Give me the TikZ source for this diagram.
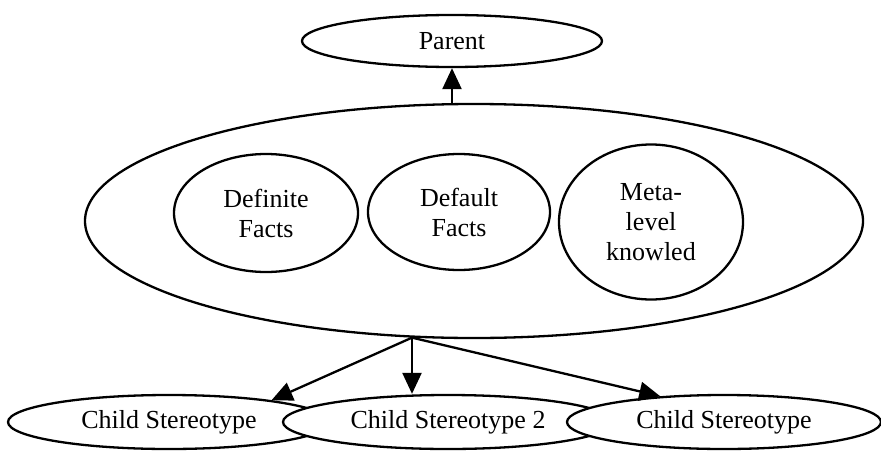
\documentclass[tikz,border=0pt]{standalone}
\usepackage{fontspec}
\setmainfont{Liberation Serif}
\usetikzlibrary{shapes.geometric,arrows.meta}
\begin{document}
\begin{tikzpicture}[x=1pt,y=-1pt,
  oval/.style={ellipse,draw,line width=2.3pt,fill=white,inner sep=0pt,
    align=center,font=\fontsize{26}{30}\selectfont},
  link/.style={line width=2.3pt,-{Triangle[length=21pt,width=19pt]}}]
\useasboundingbox (0,0) rectangle (881,450);
\clip (0,0) rectangle (881,450);
% stereotype hierarchy: parent, the stereotype itself, its children
\node[oval,minimum width=300pt,minimum height=52pt] (parent) at (452,41) {Parent};
\node[oval,minimum width=778pt,minimum height=234pt] (frame) at (474,221) {};
\node[oval,minimum width=184pt,minimum height=118pt] (definite) at (266,213) {Definite\\Facts};
\node[oval,minimum width=182pt,minimum height=116pt] (default) at (459,212) {Default\\Facts};
\node[oval,minimum width=184pt,minimum height=155pt] (meta) at (651,222) {Meta-\\level\\knowled};
\node[oval,minimum width=322pt,minimum height=54pt] (c1) at (169,422) {Child Stereotype};
\node[oval,minimum width=330pt,minimum height=54pt] (c2) at (448,422) {Child Stereotype 2};
\node[oval,minimum width=314pt,minimum height=54pt] (c3) at (724,422) {Child Stereotype};
% connectors
\coordinate (split) at (frame.242);
\draw[link] (parent.south |- frame.north) -- (parent.south);
\draw[link] (split) -- (c1.12);
\draw[link] (split) -- (split |- c2.north);
\draw[link] (split) -- (c3.158);
\end{tikzpicture}
\end{document}
